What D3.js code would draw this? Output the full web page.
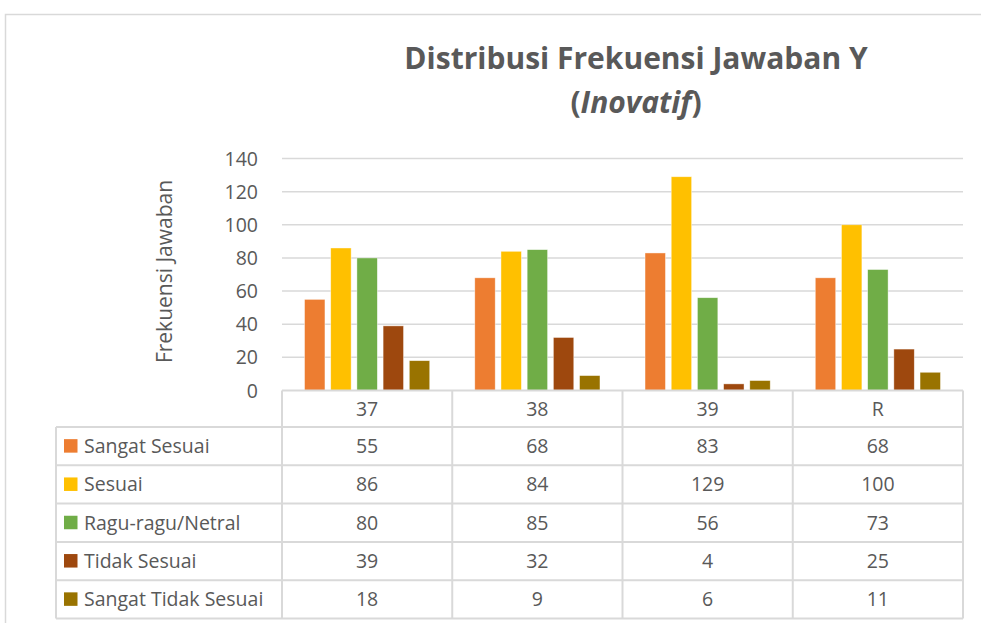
<!DOCTYPE html>
<html>
<head>
<meta charset="utf-8">
<script src="https://cdn.jsdelivr.net/npm/d3@7"></script>
<style>
  body { margin: 0; background: #fff; }
  svg text { font-family: "Open Sans", Lato, sans-serif; fill: #595959; }
</style>
</head>
<body>
<svg width="981" height="623"></svg>
<script>
// data
var categories = ["37", "38", "39", "R"];
var seriesNames = ["Sangat Sesuai", "Sesuai", "Ragu-ragu/Netral", "Tidak Sesuai", "Sangat Tidak Sesuai"];
var sangatSesuai = [55, 68, 83, 68];
var sesuai = [86, 84, 129, 100];
var raguRagu = [80, 85, 56, 73];
var tidakSesuai = [39, 32, 4, 25];
var sangatTidakSesuai = [18, 9, 6, 11];
var yTicks = [0, 20, 40, 60, 80, 100, 120, 140];
var colors = ["#ED7D31", "#FFC000", "#70AD47", "#9E480E", "#997300"];

var values = [sangatSesuai, sesuai, raguRagu, tidakSesuai, sangatTidakSesuai];

var svg = d3.select("svg");

// chart border
svg.append("rect")
  .attr("x", 5.5).attr("y", 14.5)
  .attr("width", 1100).attr("height", 700)
  .attr("fill", "none").attr("stroke", "#d9d9d9").attr("stroke-width", 1.5);

// title
svg.append("text")
  .attr("x", 636).attr("y", 69)
  .attr("text-anchor", "middle")
  .style("font-size", "30px").style("font-weight", "bold")
  .text("Distribusi Frekuensi Jawaban Y");
var t2 = svg.append("text")
  .attr("x", 636).attr("y", 113)
  .attr("text-anchor", "middle")
  .style("font-size", "30px").style("font-weight", "bold");
t2.append("tspan").text("(");
t2.append("tspan").style("font-style", "italic").text("Inovatif");
t2.append("tspan").text(")");

// scales
var plotLeft = 282, plotRight = 963, plotTop = 158.5, plotBottom = 390.5;
var x0 = d3.scaleBand().domain(categories).range([plotLeft, plotRight]);
var x1 = d3.scaleBand().domain(seriesNames).range([0, x0.bandwidth()])
  .paddingInner(0.22).paddingOuter(0.86);
var y = d3.scaleLinear().domain([0, 140]).range([plotBottom, plotTop]);

// gridlines
svg.append("g").selectAll("line").data(yTicks.slice(1)).enter().append("line")
  .attr("x1", plotLeft).attr("x2", plotRight)
  .attr("y1", function (d) { return y(d); }).attr("y2", function (d) { return y(d); })
  .attr("stroke", "#d9d9d9").attr("stroke-width", 1.5);

// y tick labels
svg.append("g").selectAll("text").data(yTicks).enter().append("text")
  .attr("x", 258).attr("y", function (d) { return y(d) + 7; })
  .attr("text-anchor", "end")
  .style("font-size", "19.5px")
  .text(function (d) { return d; });

// y axis title
svg.append("text")
  .attr("transform", "translate(172," + ((plotTop + plotBottom) / 2 - 3) + ") rotate(-90)")
  .attr("text-anchor", "middle")
  .style("font-size", "21px")
  .text("Frekuensi Jawaban");

// bars
var groups = svg.append("g").selectAll("g").data(seriesNames).enter().append("g")
  .attr("fill", function (d, i) { return colors[i]; });
groups.selectAll("rect")
  .data(function (s, i) { return values[i].map(function (v, j) { return { s: s, c: categories[j], v: v }; }); })
  .enter().append("rect")
  .attr("x", function (d) { return x0(d.c) + x1(d.s); })
  .attr("width", x1.bandwidth())
  .attr("y", function (d) { return y(d.v); })
  .attr("height", function (d) { return plotBottom - y(d.v); })
  .attr("stroke", "#fff").attr("stroke-width", 0.7).attr("stroke-opacity", 0.6);

// data table
var rowH = 38.3;
var headerBottom = 427;
var tableLeft = 56;
var lineColor = "#d9d9d9";
var table = svg.append("g");

// horizontal lines
var hLines = d3.range(seriesNames.length + 1).map(function (i) { return headerBottom + i * rowH; });
table.selectAll(".h").data(hLines).enter().append("line")
  .attr("x1", tableLeft).attr("x2", plotRight)
  .attr("y1", function (d) { return d; }).attr("y2", function (d) { return d; })
  .attr("stroke", lineColor).attr("stroke-width", 2);
// vertical lines
var vx = categories.map(function (c) { return x0(c); }).concat([plotRight]);
table.selectAll(".v").data(vx).enter().append("line")
  .attr("x1", function (d) { return d; }).attr("x2", function (d) { return d; })
  .attr("y1", plotBottom).attr("y2", hLines[hLines.length - 1])
  .attr("stroke", lineColor).attr("stroke-width", 2);
table.append("line")
  .attr("x1", plotLeft).attr("x2", plotRight).attr("y1", plotBottom).attr("y2", plotBottom)
  .attr("stroke", lineColor).attr("stroke-width", 2);
table.append("line")
  .attr("x1", tableLeft).attr("x2", tableLeft).attr("y1", headerBottom).attr("y2", hLines[hLines.length - 1])
  .attr("stroke", lineColor).attr("stroke-width", 2);

// header labels
table.selectAll(".hdr").data(categories).enter().append("text")
  .attr("x", function (d) { return x0(d) + x0.bandwidth() / 2; })
  .attr("y", (plotBottom + headerBottom) / 2 + 7)
  .attr("text-anchor", "middle")
  .style("font-size", "19.5px")
  .text(function (d) { return d; });

// rows
seriesNames.forEach(function (s, i) {
  var cy = headerBottom + i * rowH + rowH / 2;
  table.append("rect")
    .attr("x", 64).attr("y", cy - 7).attr("width", 13.5).attr("height", 13.5)
    .attr("fill", colors[i]);
  table.append("text")
    .attr("x", 84).attr("y", cy + 7)
    .style("font-size", "19.5px")
    .text(s);
  table.selectAll(".cell" + i).data(values[i]).enter().append("text")
    .attr("x", function (d, j) { return x0(categories[j]) + x0.bandwidth() / 2; })
    .attr("y", cy + 7)
    .attr("text-anchor", "middle")
    .style("font-size", "19.5px")
    .text(function (d) { return d; });
});
</script>
</body>
</html>
